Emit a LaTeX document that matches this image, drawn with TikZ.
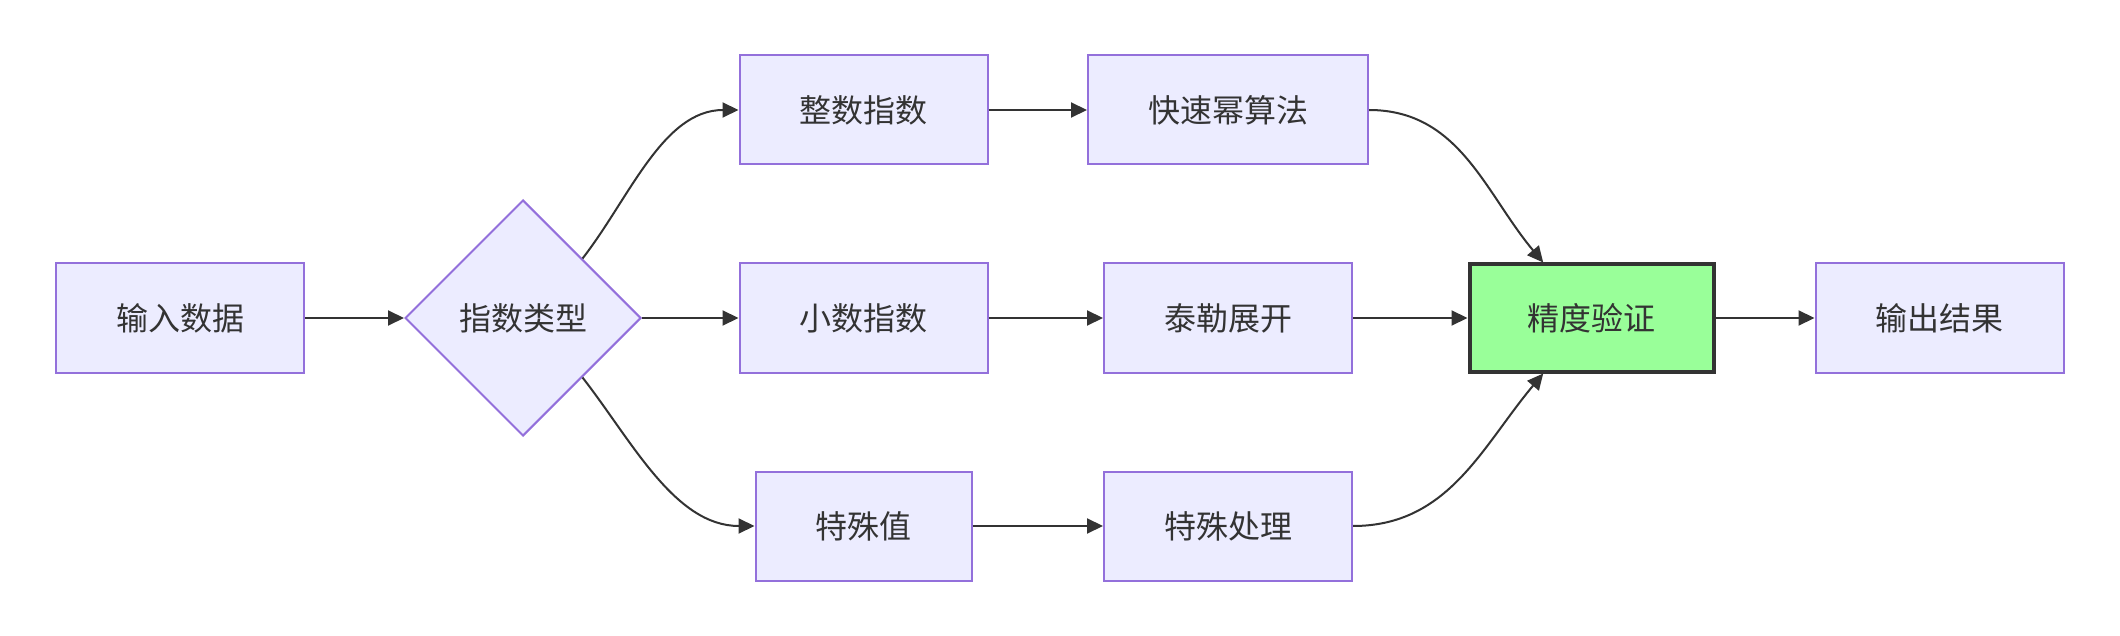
\documentclass[tikz,border=0pt]{standalone}
\usepackage{fontspec}
\newfontfamily\cjk{Noto Sans CJK SC}
\usepackage{tikz}
\usetikzlibrary{arrows.meta,positioning,shapes.geometric}
\usepackage{xcolor}
\definecolor{nfill}{HTML}{ECECFF}
\definecolor{nedge}{HTML}{9370DB}
\definecolor{ink}{HTML}{333333}
\definecolor{okfill}{HTML}{99FF99}
\tikzset{
  stage/.style={rectangle, draw=nedge, fill=nfill, line width=2pt, inner xsep=60pt, minimum height=109pt, text=ink},
  choice/.style={diamond, aspect=1, draw=nedge, fill=nfill, line width=2pt, inner sep=0pt, minimum width=236pt, minimum height=236pt, text=ink},
  goal/.style={stage, draw=ink, fill=okfill, line width=4pt, inner xsep=58pt, minimum height=107pt},
  link/.style={-{Triangle[length=16pt, width=15pt]}, line width=2pt, draw=ink},
}

\begin{document}
\begin{tikzpicture}[every node/.append style={font=\cjk\fontsize{32}{38}\selectfont}]
  \useasboundingbox (0,0) rectangle (2120pt,-636pt);
  \node[stage] (in) at (180pt,-318pt) {输入数据};
  \node[choice, right=99pt of in] (type) {指数类型};
  \node[stage, right=96.5pt of type] (dec) {小数指数};
  \node[stage, above=97pt of dec] (int) {整数指数};
  \node[stage, below=97pt of dec] (spec) {特殊值};
  \node[stage, right=114.5pt of dec] (taylor) {泰勒展开};
  \node[stage, above=97pt of taylor] (fast) {快速幂算法};
  \node[stage, below=97pt of taylor] (treat) {特殊处理};
  \node[goal, right=114.5pt of taylor] (check) {精度验证};
  \node[stage, right=99pt of check] (out) {输出结果};
  \draw[link] (in) -- (type); \draw[link] (type) -- (dec);
  \draw[link] (type.north east) to[out=52, in=180, looseness=0.9] (int.west); \draw[link] (type.south east) to[out=-52, in=180, looseness=0.9] (spec.west);
  \draw[link] (int) -- (fast); \draw[link] (dec) -- (taylor); \draw[link] (spec) -- (treat);
  \draw[link] (fast.east) to[out=0, in=130] (check.131); \draw[link] (taylor) -- (check); \draw[link] (treat.east) to[out=0, in=-130] (check.-131);
  \draw[link] (check) -- (out);
\end{tikzpicture}
\end{document}
